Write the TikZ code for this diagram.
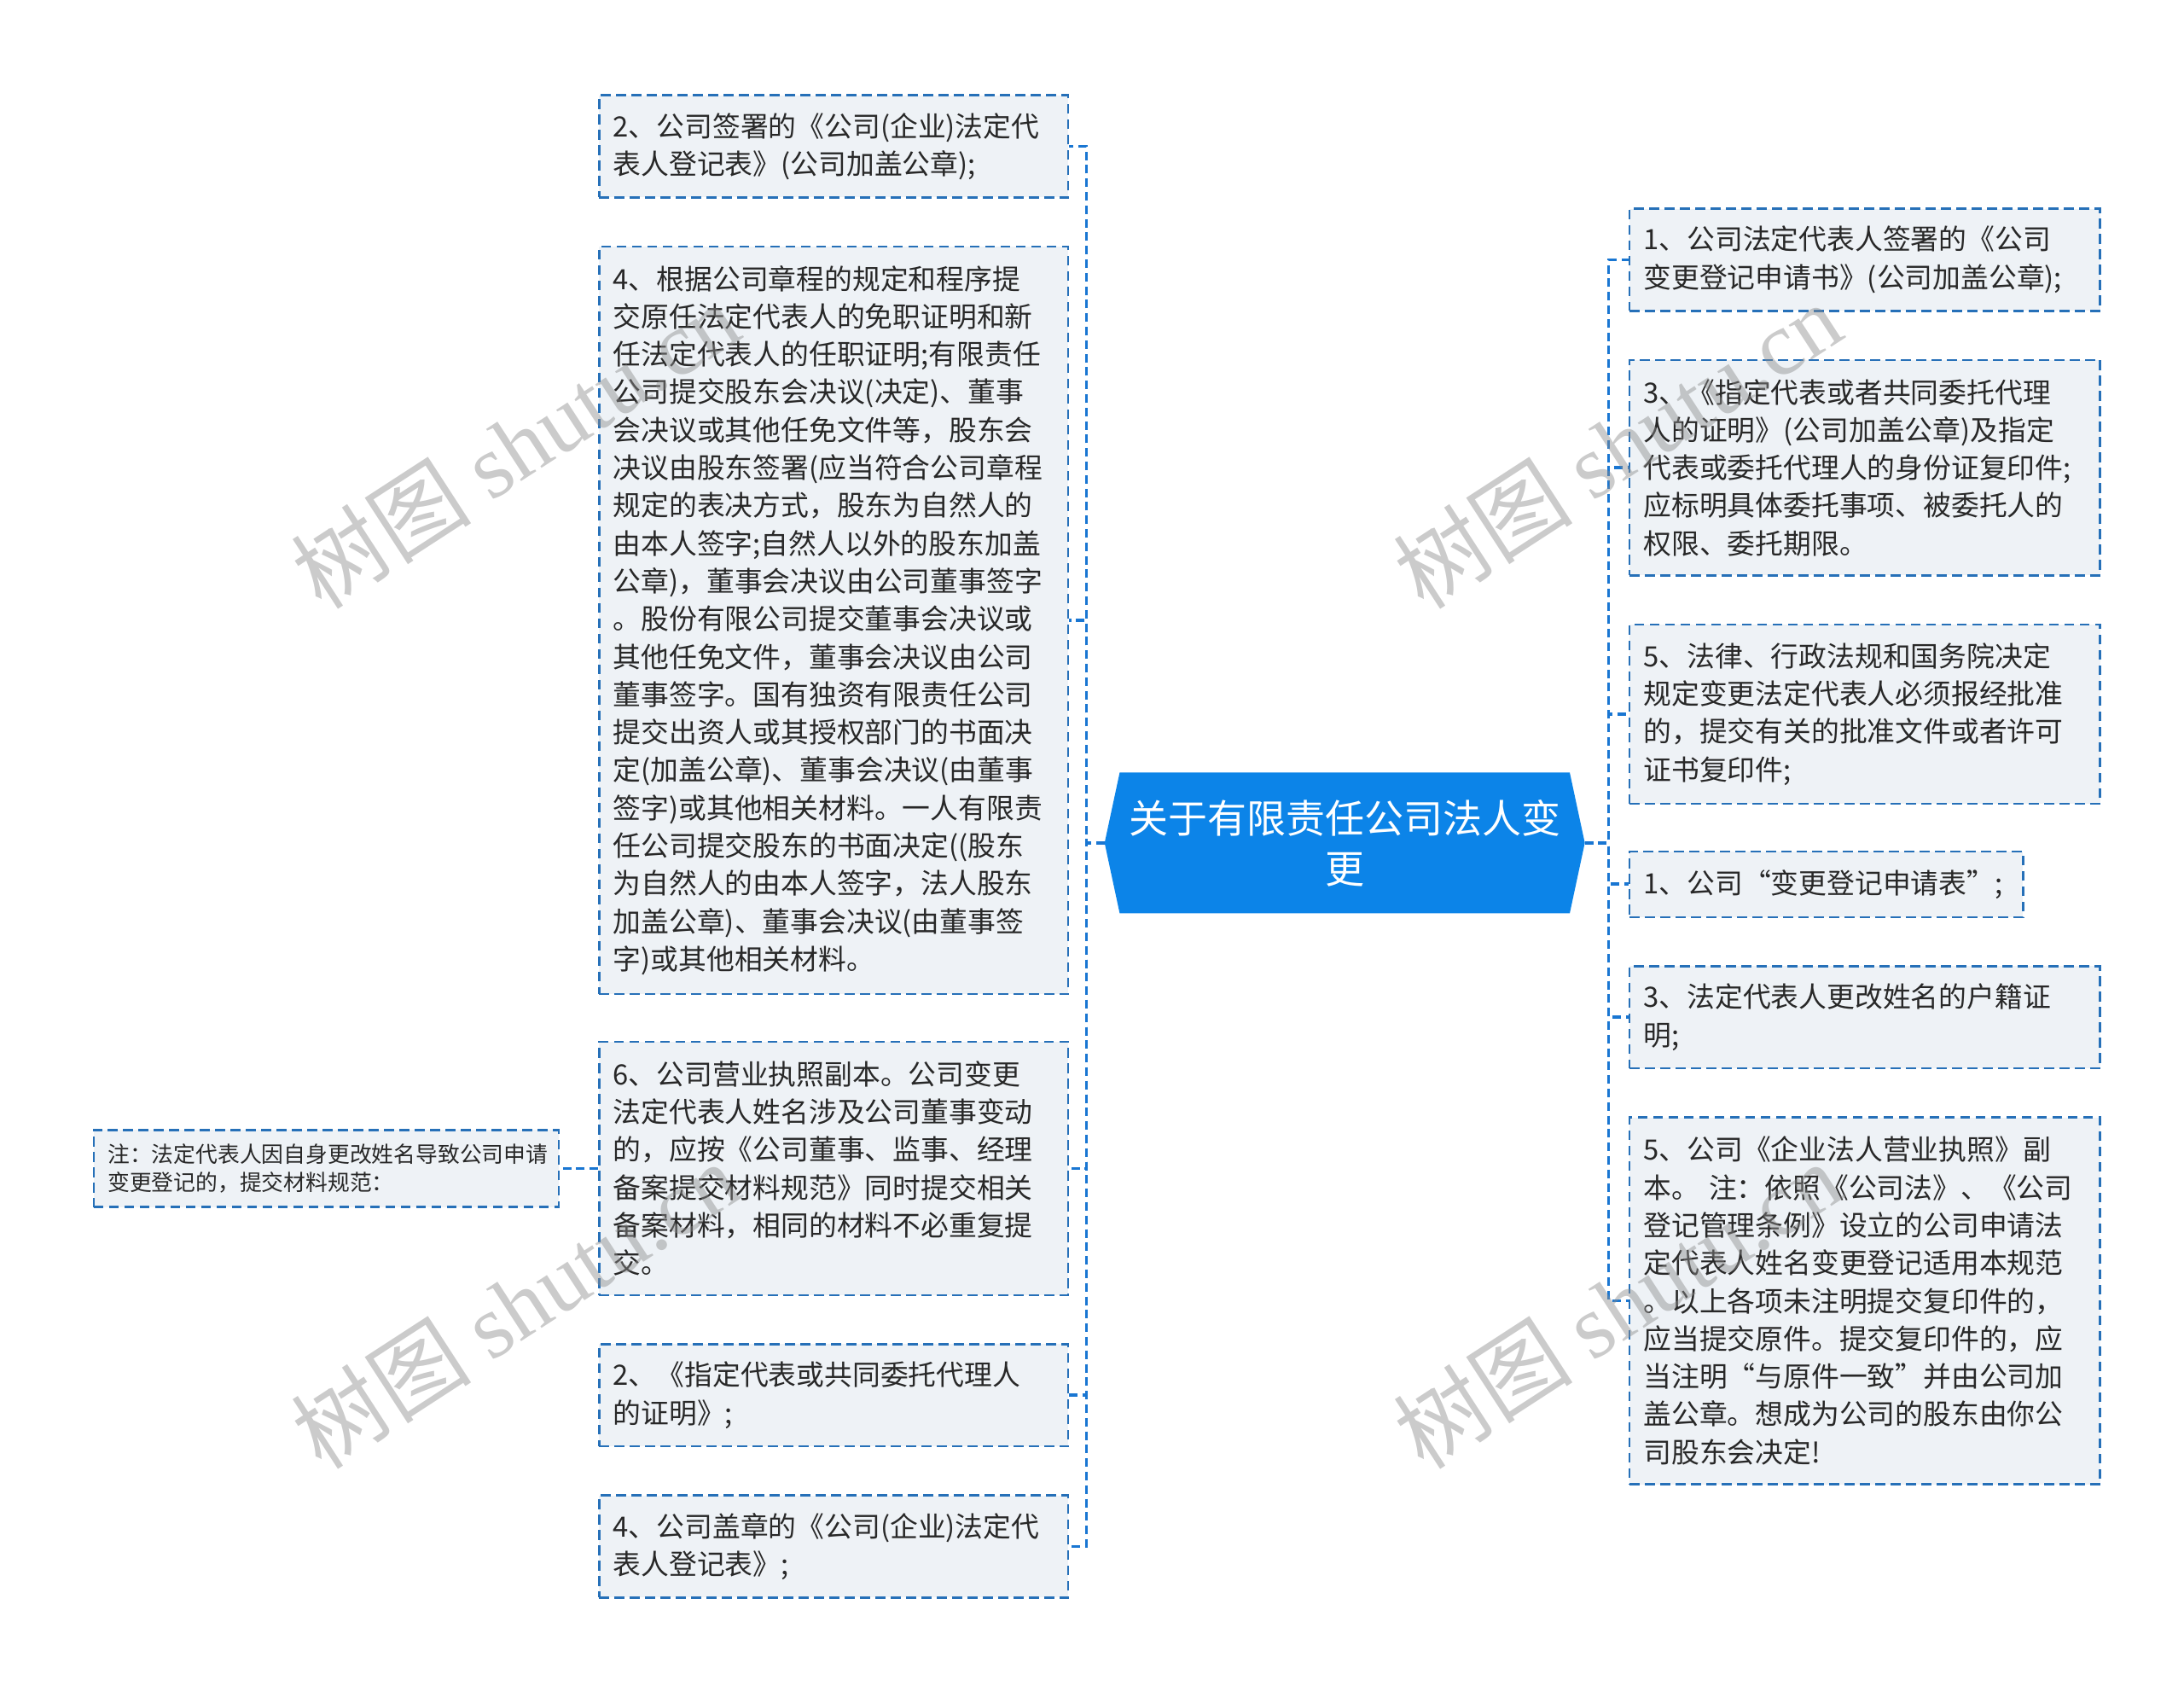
\documentclass[tikz,border=0pt]{standalone}
\usepackage{fontspec}
\setmainfont{Noto Sans CJK SC}
\newfontfamily\wmlatin{Liberation Serif}
\usetikzlibrary{backgrounds}
\definecolor{connc}{RGB}{25,118,210}
\definecolor{bord}{RGB}{38,112,184}
\definecolor{boxfill}{RGB}{238,242,246}
\definecolor{ctr}{RGB}{12,132,232}
\definecolor{txt}{RGB}{40,40,40}
\definecolor{wmc}{RGB}{140,140,140}
\newdimen\dpx \dpx=0.8205pt
\begin{document}
\begin{tikzpicture}[x=0.8205pt,y=-0.8205pt,
  box/.style={draw=bord, fill=boxfill, line width=1.2pt, dash pattern=on 5.7pt off 3.3pt,
    inner xsep=8.2pt, inner ysep=0pt, align=left, text=txt,
    font=\fontsize{16.4pt}{22.15pt}\selectfont},
  lbox/.style={box, text width=258.5pt},
  rbox/.style={box, text width=259.3pt},
  notebox/.style={box, text width=256pt, font=\fontsize{12.9pt}{16.4pt}\selectfont},
  conn/.style={draw=connc, line width=1.9pt, dash pattern=on 5pt off 2.9pt},
  ctrtext/.style={text=white, align=center, inner sep=0pt,
    font=\fontsize{23pt}{29.5pt}\selectfont},
  wm/.style={text=wmc, opacity=0.45, rotate=33, inner sep=0pt,
    font=\fontsize{53pt}{53pt}\selectfont}
]
\useasboundingbox (0,0) rectangle (1560,1203.6);

% central topic
\node[ctrtext, minimum width=321*\dpx, minimum height=100*\dpx] (c) at (960.5,602) {关于有限责任公司法人变\\更};
\coordinate (cl) at (789,602);
\coordinate (cr) at (1132,602);
\coordinate (tl) at (776,602);
\coordinate (tr) at (1149,602);

% left boxes
\node[lbox, minimum height=73*\dpx] (L1) at (595.5,104.5) {2、公司签署的《公司(企业)法定代\\表人登记表》(公司加盖公章);};
\node[lbox, minimum height=534*\dpx] (L2) at (595.5,443) {4、根据公司章程的规定和程序提\\交原任法定代表人的免职证明和新\\任法定代表人的任职证明;有限责任\\公司提交股东会决议(决定)、董事\\会决议或其他任免文件等，股东会\\决议由股东签署(应当符合公司章程\\规定的表决方式，股东为自然人的\\由本人签字;自然人以外的股东加盖\\公章)，董事会决议由公司董事签字\\。股份有限公司提交董事会决议或\\其他任免文件，董事会决议由公司\\董事签字。国有独资有限责任公司\\提交出资人或其授权部门的书面决\\定(加盖公章)、董事会决议(由董事\\签字)或其他相关材料。一人有限责\\任公司提交股东的书面决定((股东\\为自然人的由本人签字，法人股东\\加盖公章)、董事会决议(由董事签\\字)或其他相关材料。};
\node[lbox, minimum height=181*\dpx] (L3) at (595.5,834.5) {6、公司营业执照副本。公司变更\\法定代表人姓名涉及公司董事变动\\的，应按《公司董事、监事、经理\\备案提交材料规范》同时提交相关\\备案材料，相同的材料不必重复提\\交。};
\node[lbox, minimum height=73*\dpx] (L4) at (595.5,996.5) {2、《指定代表或共同委托代理人\\的证明》;};
\node[lbox, minimum height=73*\dpx] (L5) at (595.5,1104.5) {4、公司盖章的《公司(企业)法定代\\表人登记表》;};
\node[notebox, minimum height=55*\dpx] (N) at (233,834.5) {注：法定代表人因自身更改姓名导致公司申请\\变更登记的，提交材料规范：};

% right boxes
\node[rbox, minimum height=73*\dpx] (R1) at (1332,185.5) {1、公司法定代表人签署的《公司\\变更登记申请书》(公司加盖公章);};
\node[rbox, minimum height=154*\dpx] (R2) at (1332,334) {3、《指定代表或者共同委托代理\\人的证明》(公司加盖公章)及指定\\代表或委托代理人的身份证复印件;\\应标明具体委托事项、被委托人的\\权限、委托期限。};
\node[rbox, minimum height=128*\dpx] (R3) at (1332,510) {5、法律、行政法规和国务院决定\\规定变更法定代表人必须报经批准\\的，提交有关的批准文件或者许可\\证书复印件;};
\node[box, text width=214.2pt, minimum height=47*\dpx] (R4) at (1304.5,631.5) {1、公司“变更登记申请表”;};
\node[rbox, minimum height=73*\dpx] (R5) at (1332,726.5) {3、法定代表人更改姓名的户籍证\\明;};
\node[rbox, minimum height=262*\dpx] (R6) at (1332,929) {5、公司《企业法人营业执照》副\\本。 注：依照《公司法》、《公司\\登记管理条例》设立的公司申请法\\定代表人姓名变更登记适用本规范\\。以上各项未注明提交复印件的，\\应当提交原件。提交复印件的，应\\当注明“与原件一致”并由公司加\\盖公章。想成为公司的股东由你公\\司股东会决定!};

\begin{pgfonlayer}{background}
  \fill[ctr] (c.north west) -- (c.north east) -- (cr) -- (c.south east) -- (c.south west) -- (cl) -- cycle;
  \foreach \n in {L1,L2,L3,L4,L5} \draw[conn] (cl) -- (tl) |- (\n.east);
  \foreach \n in {R1,R2,R3,R4,R5,R6} \draw[conn] (cr) -- (tr) |- (\n.west);
  \draw[conn] (L3.west) -- (N.east);
\end{pgfonlayer}

% watermarks
\node[wm] (w1) at (368,318) {树图 {\wmlatin shutu.cn}};
\node[wm] (w2) at (1155,318) {树图 {\wmlatin shutu.cn}};
\node[wm] (w3) at (368,932) {树图 {\wmlatin shutu.cn}};
\node[wm] (w4) at (1155,932) {树图 {\wmlatin shutu.cn}};
\end{tikzpicture}
\end{document}
